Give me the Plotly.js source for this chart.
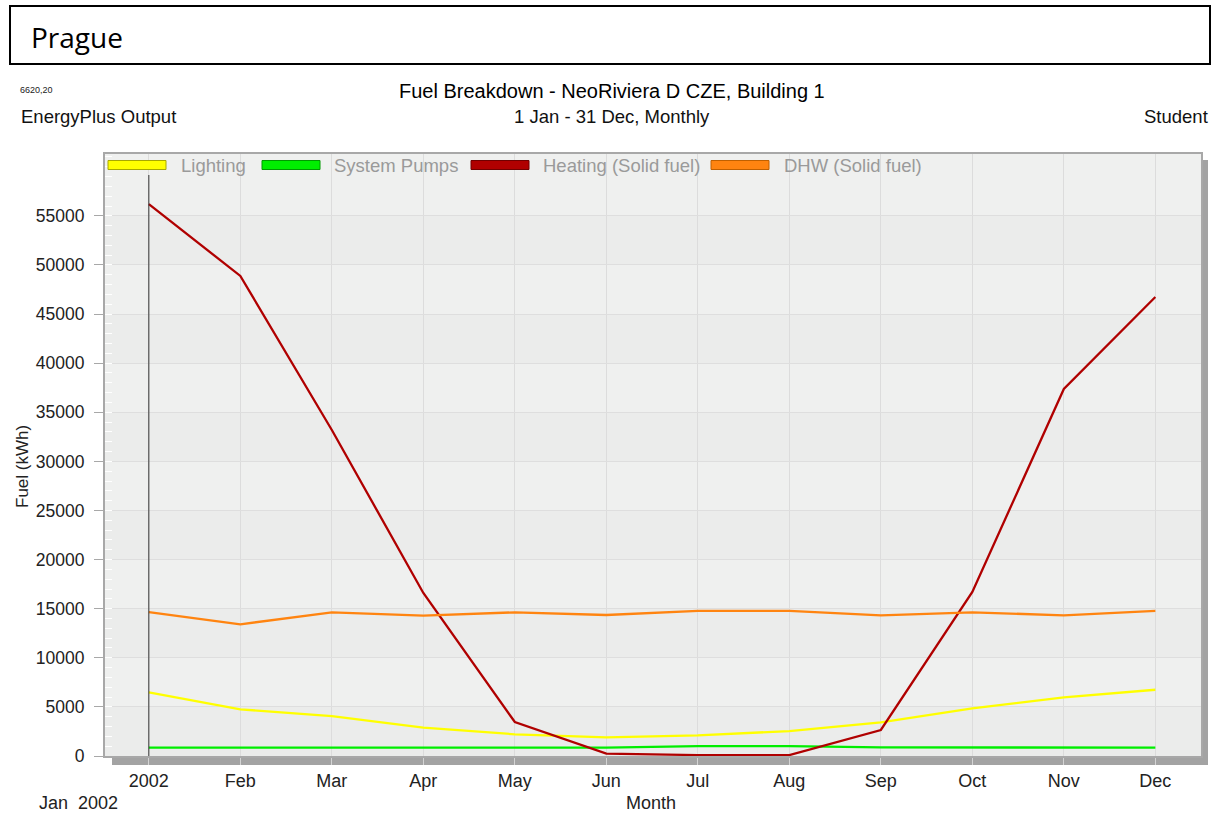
<!DOCTYPE html>
<html>
<head>
<meta charset="utf-8">
<script src="https://cdn.plot.ly/plotly-3.0.1.min.js"></script>
<style>
  html, body { margin: 0; padding: 0; background: #ffffff; }
  #chart { width: 1215px; height: 813px; }
</style>
</head>
<body>
<div id="chart"></div>
<script>
// ---- data ----
const months = ["2002", "Feb", "Mar", "Apr", "May", "Jun", "Jul", "Aug", "Sep", "Oct", "Nov", "Dec"];
const lighting = [6490, 4750, 4070, 2880, 2210, 1900, 2100, 2540, 3430, 4860, 5980, 6750];
const systemPumps = [860, 860, 860, 860, 860, 860, 1010, 1010, 870, 860, 860, 860];
const heating = [56200, 48880, 33200, 16600, 3460, 250, 100, 100, 2650, 16700, 37370, 46740];
const dhw = [14660, 13410, 14630, 14290, 14630, 14360, 14770, 14770, 14330, 14630, 14330, 14770];
const yTicks = [0, 5000, 10000, 15000, 20000, 25000, 30000, 35000, 40000, 45000, 50000, 55000];

const seriesNames = ["Lighting", "System Pumps", "Heating (Solid fuel)", "DHW (Solid fuel)"];
const seriesColors = ["#ffff00", "#00ee00", "#b00000", "#ff8410"];
const swatchBorders = ["#a8a800", "#009900", "#700000", "#c06000"];
const seriesData = [lighting, systemPumps, heating, dhw];

// ---- geometry helpers (pixel -> paper) ----
const L = 104, R = 1202, T = 153, B = 757;
const W = R - L, H = B - T;
const px = v => (v - L) / W;
const py = v => (B - v) / H;

const xIdx = months.map((m, i) => i);

const traces = seriesData.map((d, i) => ({
  type: "scatter",
  mode: "lines",
  x: xIdx,
  y: d,
  name: seriesNames[i],
  line: { color: seriesColors[i], width: 2.3 },
  hoverinfo: "skip",
  showlegend: false
}));

const shapes = [];
// horizontal background bands
for (let k = 0; k < yTicks.length - 1; k++) {
  shapes.push({
    type: "rect", layer: "below", xref: "paper", yref: "y",
    x0: 0, x1: 1, y0: yTicks[k], y1: yTicks[k + 1],
    fillcolor: (k % 2 === 0) ? "#ebeceb" : "#eff0ef", line: { width: 0 }
  });
}
// cover top strip (legend area) so vertical grid lines start below it
shapes.push({
  type: "rect", layer: "between", xref: "paper", yref: "paper",
  x0: 0, x1: 1, y0: py(175), y1: 1,
  fillcolor: "#eff0ef", line: { width: 0 }
});
// cursor line at first month
shapes.push({
  type: "line", layer: "above", xref: "x", yref: "paper",
  x0: 0, x1: 0, y0: 0, y1: py(175),
  line: { color: "#333333", width: 1 }
});
// shadow of frame
shapes.push({
  type: "rect", layer: "below", xref: "paper", yref: "paper",
  x0: px(112), x1: px(1208), y0: py(765), y1: 0,
  fillcolor: "#a3a3a3", line: { width: 0 }
});
shapes.push({
  type: "rect", layer: "below", xref: "paper", yref: "paper",
  x0: 1, x1: px(1208), y0: py(765), y1: py(160),
  fillcolor: "#a3a3a3", line: { width: 0 }
});
// frame
shapes.push({
  type: "rect", layer: "above", xref: "paper", yref: "paper",
  x0: 0, x1: 1, y0: 0, y1: 1,
  line: { color: "#a8a8a8", width: 2 }, fillcolor: "rgba(0,0,0,0)"
});
// Prague box
shapes.push({
  type: "rect", layer: "above", xref: "paper", yref: "paper",
  x0: px(10), x1: px(1210), y0: py(64), y1: py(6),
  line: { color: "#000000", width: 2 }, fillcolor: "rgba(0,0,0,0)"
});

const annotations = [];
// legend (custom, inside plot top)
const swatchX = [108, 262, 471, 711];
const labelX = [179, 332, 541, 782];
seriesNames.forEach((n, i) => {
  shapes.push({
    type: "rect", layer: "above", xref: "paper", yref: "paper",
    x0: px(swatchX[i]), x1: px(swatchX[i] + 58), y0: py(169.5), y1: py(160.5),
    fillcolor: seriesColors[i], line: { color: swatchBorders[i], width: 1 }
  });
  annotations.push({
    text: n, xref: "paper", yref: "paper", x: px(labelX[i]), y: py(165),
    xanchor: "left", yanchor: "middle", showarrow: false,
    font: { family: "Liberation Sans, Arial, sans-serif", size: 18.5, color: "#9a9a9a" }
  });
});

function txt(text, x, y, size, anchor, color, family, angle) {
  annotations.push({
    text: text, xref: "paper", yref: "paper", x: px(x), y: py(y),
    xanchor: anchor, yanchor: "middle", showarrow: false, textangle: angle || 0,
    font: { family: family || "Liberation Sans, Arial, sans-serif", size: size, color: color || "#000000" }
  });
}
txt("Prague", 29, 37, 28, "left", "#000000", "Open Sans, Noto Sans, sans-serif");
txt("6620,20", 18, 90, 9, "left", "#222222");
txt("EnergyPlus Output", 19, 117, 18.5, "left", "#111111");
txt("Fuel Breakdown - NeoRiviera D CZE, Building 1", 612, 91, 20, "center", "#000000");
txt("1 Jan - 31 Dec, Monthly", 612, 117, 18.5, "center", "#111111");
txt("Student", 1210, 117, 18.5, "right", "#111111");
txt("Fuel (kWh)", 22, 467, 17, "center", "#222222", null, -90);
txt("Month", 651, 803, 18, "center", "#222222");
txt("Jan  2002", 37, 803, 18, "left", "#222222");

const layout = {
  width: 1215, height: 813,
  margin: { l: L, r: 1215 - R, t: T, b: 813 - B, pad: 0 },
  paper_bgcolor: "#ffffff",
  plot_bgcolor: "#eff0ef",
  showlegend: false,
  xaxis: {
    range: [-0.49, 11.51],
    tickmode: "array", tickvals: xIdx, ticktext: months,
    showgrid: true, gridcolor: "#dcdcdc", gridwidth: 1,
    zeroline: false, showline: false,
    ticks: "outside", ticklen: 7, tickcolor: "#d4d4d4",
    tickfont: { family: "Liberation Sans, Arial, sans-serif", size: 18, color: "#222222" },
    fixedrange: true
  },
  yaxis: {
    range: [-100, 61400],
    tickmode: "array", tickvals: yTicks, ticktext: yTicks.map(String),
    showgrid: true, gridcolor: "#dedede", gridwidth: 1,
    zeroline: false, showline: false,
    ticks: "outside", ticklen: 9, tickcolor: "#a8a8a8",
    ticklabelstandoff: 6,
    tickfont: { family: "Liberation Sans, Arial, sans-serif", size: 17.5, color: "#222222" },
    minor: { ticks: "inside", ticklen: 8, tickcolor: "#ffffff", dtick: 1000, showgrid: false },
    fixedrange: true
  },
  shapes: shapes,
  annotations: annotations
};

Plotly.newPlot("chart", traces, layout, { displayModeBar: false, staticPlot: true });
</script>
</body>
</html>
